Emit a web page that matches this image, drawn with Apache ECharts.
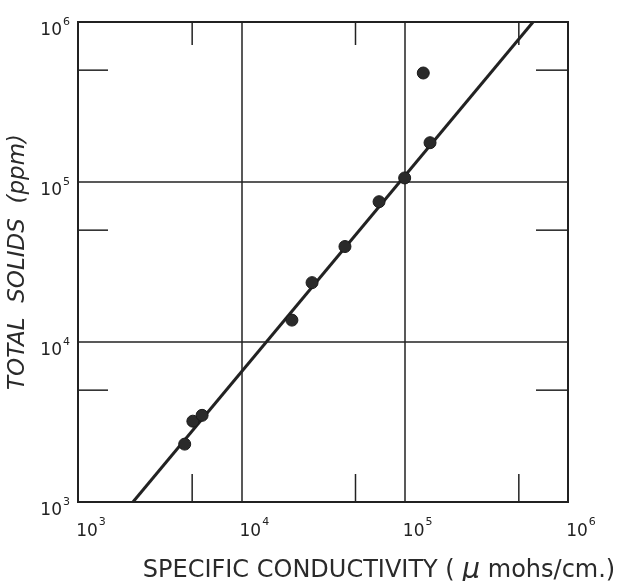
<!DOCTYPE html>
<html>
<head>
<meta charset="utf-8">
<script src="https://cdn.jsdelivr.net/npm/echarts@6/dist/echarts.min.js"></script>
<style>html,body{margin:0;padding:0;background:#fff;}#chart{width:622px;height:581px;}</style>
</head>
<body>
<div id="chart"></div>
<script>
// Data
const conductivity = [4500, 5050, 5750, 20400, 27100, 43100, 69700, 100000, 143000, 130000];
const totalSolids  = [2300, 3200, 3480, 13700, 23500, 39500, 75300, 106000, 176000, 480000];
const fitLineX = [2170, 611000];
const fitLineY = [1000, 1000000];
const xTickVals = [5000, 50000, 500000];
const yTickVals = [5000, 50000, 500000];
const decadeLabels = {1000: '3', 10000: '4', 100000: '5', 1000000: '6'};

const INK = '#222';
const FONT = 'DejaVu Sans';

function expLabel(v) {
  const e = decadeLabels[Math.round(v)];
  return e ? '{b|10}{s|' + e + '}' : '';
}
const labelRich = {
  b: {fontSize: 17, color: INK, fontFamily: FONT, verticalAlign: 'bottom', padding: [6, 0, 0, 0]},
  s: {fontSize: 11, color: INK, fontFamily: FONT, verticalAlign: 'top', padding: [0, 0, 8, 1]}
};

const chart = echarts.init(document.getElementById('chart'));
chart.setOption({
  backgroundColor: '#fff',
  animation: false,
  grid: {left: 78, right: 54, top: 22, bottom: 79, show: true, borderColor: INK, borderWidth: 2,
    backgroundColor: 'transparent', containLabel: false, outerBoundsMode: 'none'},
  xAxis: {
    type: 'log', logBase: 10, min: 1000, max: 1000000,
    axisLine: {show: false}, axisTick: {show: false}, minorTick: {show: false},
    splitLine: {show: true, lineStyle: {color: INK, width: 1.5}},
    axisLabel: {formatter: expLabel, rich: labelRich, margin: 15, padding: [0, 0, 0, 26], showMinLabel: true, showMaxLabel: true},
    name: 'SPECIFIC CONDUCTIVITY ( {mu|μ} mohs/cm.)',
    nameLocation: 'middle', nameGap: 55,
    nameTextStyle: {fontSize: 24, color: '#2a2a2a', fontFamily: FONT, padding: [0, 0, 0, 112],
      rich: {mu: {fontSize: 28, fontStyle: 'italic', color: '#2a2a2a', fontFamily: FONT}}}
  },
  yAxis: {
    type: 'log', logBase: 10, min: 1000, max: 1000000,
    axisLine: {show: false}, axisTick: {show: false}, minorTick: {show: false},
    splitLine: {show: true, lineStyle: {color: INK, width: 1.5}},
    axisLabel: {formatter: expLabel, rich: labelRich, margin: 8, padding: [12, 0, 0, 0], showMinLabel: true, showMaxLabel: true},
    name: 'TOTAL  SOLIDS  (ppm)',
    nameLocation: 'middle', nameGap: 45,
    nameTextStyle: {fontSize: 23, fontStyle: 'italic', color: '#2a2a2a', fontFamily: FONT}
  },
  series: [
    {
      type: 'line', data: fitLineX.map((x, i) => [x, fitLineY[i]]),
      showSymbol: false, lineStyle: {color: INK, width: 3}, z: 3, silent: true
    },
    {
      type: 'scatter', data: conductivity.map((x, i) => [x, totalSolids[i]]),
      symbol: 'circle', symbolSize: 12,
      itemStyle: {color: '#2a2a2a', borderColor: '#1a1a1a', borderWidth: 1, opacity: 1}, z: 4
    },
    {
      type: 'custom', data: xTickVals.map(v => [v, 1000]), silent: true, z: 2,
      renderItem: function (params, api) {
        const cs = params.coordSys;
        const p = api.coord([api.value(0), 1000]);
        const st = {stroke: INK, lineWidth: 1.5};
        return {type: 'group', children: [
          {type: 'line', shape: {x1: p[0], y1: cs.y + cs.height, x2: p[0], y2: cs.y + cs.height - 28}, style: st},
          {type: 'line', shape: {x1: p[0], y1: cs.y, x2: p[0], y2: cs.y + 23}, style: st}
        ]};
      }
    },
    {
      type: 'custom', data: yTickVals.map(v => [1000, v]), silent: true, z: 2,
      renderItem: function (params, api) {
        const cs = params.coordSys;
        const p = api.coord([1000, api.value(1)]);
        const st = {stroke: INK, lineWidth: 1.5};
        return {type: 'group', children: [
          {type: 'line', shape: {x1: cs.x, y1: p[1], x2: cs.x + 30, y2: p[1]}, style: st},
          {type: 'line', shape: {x1: cs.x + cs.width, y1: p[1], x2: cs.x + cs.width - 32, y2: p[1]}, style: st}
        ]};
      }
    }
  ]
});
</script>
</body>
</html>
